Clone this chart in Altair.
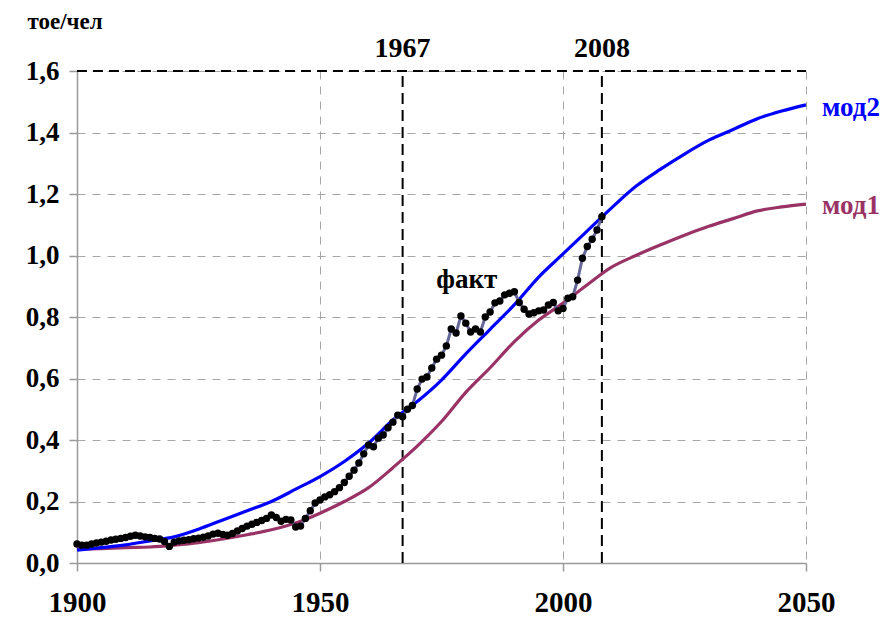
import altair as alt
import pandas as pd

# Energy consumption per capita (toe per person): observed data and two model runs
fact_years = list(range(1900, 2009))
fact_values = [
    0.062, 0.058, 0.058, 0.062, 0.065, 0.068, 0.071, 0.075, 0.077, 0.080,  # 1900-1909
    0.083, 0.087, 0.090, 0.088, 0.085, 0.083, 0.080, 0.078, 0.070, 0.054,  # 1910-1919
    0.068, 0.072, 0.074, 0.076, 0.079, 0.081, 0.084, 0.088, 0.094, 0.097,  # 1920-1929
    0.093, 0.090, 0.096, 0.104, 0.112, 0.120, 0.126, 0.132, 0.138, 0.145,  # 1930-1939
    0.156, 0.148, 0.136, 0.142, 0.140, 0.117, 0.120, 0.145, 0.170, 0.195,  # 1940-1949
    0.205, 0.215, 0.222, 0.232, 0.245, 0.262, 0.282, 0.302, 0.325, 0.355,  # 1950-1959
    0.384, 0.378, 0.406, 0.416, 0.440, 0.458, 0.481, 0.476, 0.500, 0.512,  # 1960-1969
    0.566, 0.598, 0.605, 0.634, 0.663, 0.676, 0.706, 0.761, 0.748, 0.803,  # 1970-1979
    0.780, 0.751, 0.761, 0.751, 0.800, 0.816, 0.846, 0.852, 0.872, 0.877,  # 1980-1989
    0.882, 0.847, 0.825, 0.810, 0.814, 0.820, 0.823, 0.839, 0.847, 0.820,  # 1990-1999
    0.828, 0.861, 0.866, 0.920, 0.991, 1.029, 1.053, 1.083, 1.126,         # 2000-2008
]

model_years = list(range(1900, 2051, 5))
mod1_values = [
    0.045, 0.047, 0.050, 0.052, 0.058, 0.066, 0.078, 0.092, 0.108, 0.130,
    0.162, 0.200, 0.245, 0.310, 0.380, 0.460, 0.555, 0.635, 0.720, 0.790,
    0.845, 0.905, 0.962, 1.000, 1.034, 1.066, 1.095, 1.120, 1.145, 1.158,
    1.167,
]
mod2_values = [
    0.042, 0.050, 0.059, 0.072, 0.085, 0.110, 0.140, 0.170, 0.200, 0.240,
    0.281, 0.330, 0.390, 0.465, 0.525, 0.595, 0.680, 0.760, 0.840, 0.930,
    1.005, 1.080, 1.155, 1.225, 1.280, 1.330, 1.375, 1.410, 1.445, 1.470,
    1.490,
]

marker_years = [1967, 2008]
x_ticks = [1900, 1950, 2000, 2050]
y_ticks = [0.0, 0.2, 0.4, 0.6, 0.8, 1.0, 1.2, 1.4, 1.6]

# year labels above the dashed marker lines
year_label_text = ["1967", "2008"]
year_label_y = [1.67, 1.67]
# series names at the right end of the model curves
series_label_text = ["мод2", "мод1"]
series_label_x = [2053.3, 2053.3]
series_label_y = [1.48, 1.161]
series_label_color = ["#0000ff", "#993366"]
# name of the observed series
fact_label_text = ["факт"]
fact_label_x = [1980.2]
fact_label_y = [0.92]

FONT = "Liberation Serif"
GRID = "#a6a6a6"
AXIS = "#9a9a9a"

fact_df = pd.DataFrame({"year": fact_years, "value": fact_values})
model_df = pd.DataFrame({
    "year": model_years * 2,
    "value": mod1_values + mod2_values,
    "model": ["мод1"] * len(model_years) + ["мод2"] * len(model_years),
})
marker_df = pd.DataFrame({"year": marker_years})
year_label_df = pd.DataFrame({"text": year_label_text, "x": marker_years, "y": year_label_y})
series_label_df = pd.DataFrame({
    "text": series_label_text, "x": series_label_x, "y": series_label_y,
    "color": series_label_color,
})
fact_label_df = pd.DataFrame({"text": fact_label_text, "x": fact_label_x, "y": fact_label_y})

x_scale = alt.Scale(domain=[1900, 2050], nice=False, zero=False)
y_scale = alt.Scale(domain=[0, 1.6], nice=False)

x_axis = alt.Axis(
    values=x_ticks, format="d", grid=True, gridColor=GRID, gridDash=[8, 7],
    gridWidth=1, domainColor=AXIS, domainWidth=1.5, tickColor=AXIS,
    tickSize=8, tickWidth=1.5, labelFont=FONT, labelFontSize=29,
    labelFontWeight="bold", labelColor="black", labelPadding=17,
    labelFlush=False, labelOverlap=False, labelBound=False, title=None,
)
y_axis = alt.Axis(
    values=y_ticks, grid=True, gridColor=GRID, gridDash=[8, 7], gridWidth=1,
    domainColor=AXIS, domainWidth=1.5, tickColor=AXIS, tickSize=8,
    tickWidth=1.5, labelFont=FONT, labelFontSize=27, labelFontWeight="bold",
    labelColor="black", labelPadding=10, labelFlush=False, labelOverlap=False,
    labelExpr="replace(format(datum.value, '.1f'), '.', ',')",
    title="тое/чел", titleAngle=0, titleAlign="left", titleBaseline="middle",
    titleX=-50, titleY=-50, titleFont=FONT, titleFontSize=23,
    titleFontWeight="bold", titleColor="black",
)

base_axes = alt.Chart(fact_df).mark_point(opacity=0).encode(
    x=alt.X("year:Q", scale=x_scale, axis=x_axis),
    y=alt.Y("value:Q", scale=y_scale, axis=y_axis),
)

# dashed black frame line along the top of the plot
top_border = alt.Chart(pd.DataFrame({"y": [1.6]})).mark_rule(
    color="black", strokeWidth=2, strokeDash=[10, 6]
).encode(
    y=alt.Y("y:Q", scale=y_scale),
    x=alt.datum(1900),
    x2=alt.datum(2050),
)

markers = alt.Chart(marker_df).mark_rule(
    color="black", strokeWidth=2, strokeDash=[11, 6]
).encode(
    x=alt.X("year:Q", scale=x_scale),
    y=alt.datum(0),
    y2=alt.datum(1.6),
)

models = alt.Chart(model_df).mark_line(strokeWidth=3.2, interpolate="monotone").encode(
    x=alt.X("year:Q", scale=x_scale),
    y=alt.Y("value:Q", scale=y_scale),
    color=alt.Color("model:N", scale=alt.Scale(domain=["мод1", "мод2"],
                                               range=["#993366", "#0000ff"]),
                    legend=None),
)

fact_line = alt.Chart(fact_df).mark_line(color="#666699", strokeWidth=3).encode(
    x=alt.X("year:Q", scale=x_scale),
    y=alt.Y("value:Q", scale=y_scale),
)
fact_points = alt.Chart(fact_df).mark_circle(color="black", size=55, opacity=1).encode(
    x=alt.X("year:Q", scale=x_scale),
    y=alt.Y("value:Q", scale=y_scale),
)

year_labels = alt.Chart(year_label_df).mark_text(
    font=FONT, fontWeight="bold", fontSize=28, align="center", baseline="middle",
    color="black",
).encode(x=alt.X("x:Q", scale=x_scale), y=alt.Y("y:Q", scale=y_scale), text="text:N")

series_labels = alt.Chart(series_label_df).mark_text(
    font=FONT, fontWeight="bold", fontSize=27, align="left", baseline="middle",
).encode(
    x=alt.X("x:Q", scale=x_scale), y=alt.Y("y:Q", scale=y_scale), text="text:N",
    color=alt.Color("color:N", scale=None),
)

fact_label = alt.Chart(fact_label_df).mark_text(
    font=FONT, fontWeight="bold", fontSize=27, align="center", baseline="middle",
    color="black",
).encode(x=alt.X("x:Q", scale=x_scale), y=alt.Y("y:Q", scale=y_scale), text="text:N")

chart = alt.layer(
    base_axes, top_border, markers, models, fact_line, fact_points,
    year_labels, series_labels, fact_label,
).properties(
    width=729, height=492,
    autosize=alt.AutoSizeParams(type="none"),
    padding={"left": 77, "top": 71, "right": 83, "bottom": 54},
    background="white",
).configure_view(stroke=None)

chart.save("out.html", embed_options={"renderer": "svg", "actions": False})
